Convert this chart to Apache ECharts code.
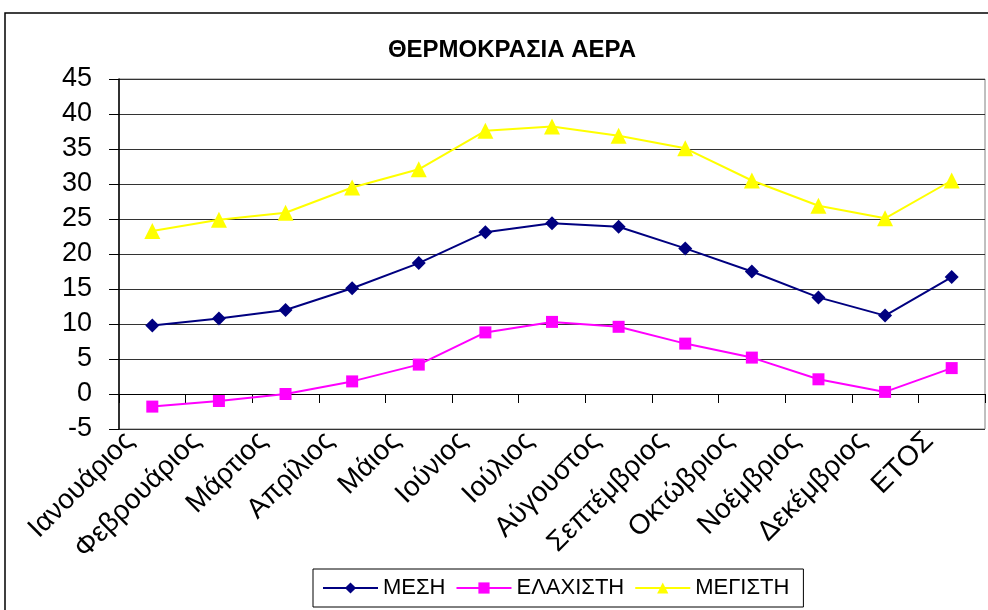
<!DOCTYPE html>
<html>
<head>
<meta charset="utf-8">
<script src="https://cdn.jsdelivr.net/npm/echarts@6/dist/echarts.min.js"></script>
<style>
  html, body { margin: 0; padding: 0; background: #fff; }
  #chart { width: 988px; height: 610px; }
</style>
</head>
<body>
<div id="chart"></div>
<script>
// data
const months = ['Ιανουάριος', 'Φεβρουάριος', 'Μάρτιος', 'Απρίλιος', 'Μάιος', 'Ιούνιος',
  'Ιούλιος', 'Αύγουστος', 'Σεπτέμβριος', 'Οκτώβριος', 'Νοέμβριος', 'Δεκέμβριος', 'ΕΤΟΣ']
const mesh = [9.8, 10.8, 12.0, 15.1, 18.7, 23.1, 24.4, 23.9, 20.8, 17.5, 13.8, 11.2, 16.7]
const elaxisti = [-1.8, -1.0, 0.0, 1.8, 4.2, 8.8, 10.3, 9.6, 7.2, 5.2, 2.1, 0.3, 3.7]
const megisti = [23.3, 24.9, 25.9, 29.5, 32.1, 37.6, 38.2, 36.9, 35.1, 30.5, 26.9, 25.1, 30.5]

const font = 'Arial, "Liberation Sans", sans-serif'

const chart = echarts.init(document.getElementById('chart'))

// one line series, Excel-like style
function lineSeries(name, data, color, symbol, size) {
  return {
    name: name,
    type: 'line',
    data: data,
    symbol: symbol,
    symbolSize: size,
    lineStyle: { color: color, width: 2 },
    itemStyle: { color: color },
    emphasis: { disabled: true },
    animation: false
  }
}

chart.setOption({
  backgroundColor: '#fff',
  textStyle: { fontFamily: font },
  graphic: [{
    type: 'rect',
    shape: { x: 5, y: 13, width: 1000, height: 700 },
    style: { fill: 'none', stroke: '#000', lineWidth: 1.5 },
    z: -1
  }],
  title: {
    text: 'ΘΕΡΜΟΚΡΑΣΙΑ ΑΕΡΑ',
    left: 507,
    textAlign: 'center',
    top: 33,
    textStyle: { fontSize: 24, fontWeight: 'bold', color: '#000', fontFamily: font }
  },
  grid: {
    left: 119, right: 3, top: 79, bottom: 181,
    show: true, borderColor: '#808080', borderWidth: 1
  },
  xAxis: {
    type: 'category',
    data: months,
    boundaryGap: true,
    axisLine: { onZero: true, lineStyle: { color: '#000', width: 1 } },
    axisTick: { show: true, inside: false, length: 9, alignWithLabel: false, lineStyle: { color: '#000' } },
    axisLabel: {
      rotate: 45, margin: 5, interval: 0,
      verticalAlign: 'bottom',
      padding: [0, 18, 0, 0],
      fontSize: 28, color: '#000', fontFamily: font
    },
    splitLine: { show: false }
  },
  yAxis: {
    type: 'value',
    min: -5, max: 45, interval: 5,
    axisLine: { show: true, lineStyle: { color: '#000', width: 1.5 } },
    axisTick: { show: true, length: 10, lineStyle: { color: '#000' } },
    axisLabel: { fontSize: 27, color: '#000', margin: 27, fontFamily: font },
    splitLine: { show: true, lineStyle: { color: '#333', width: 1 } }
  },
  legend: {
    left: 313, top: 569,
    padding: [8, 14, 8, 9],
    itemGap: 10,
    itemWidth: 55, itemHeight: 14,
    borderColor: '#000', borderWidth: 1,
    textStyle: { fontSize: 22, color: '#000', fontFamily: font },
    data: ['ΜΕΣΗ', 'ΕΛΑΧΙΣΤΗ', 'ΜΕΓΙΣΤΗ']
  },
  series: [
    lineSeries('ΜΕΣΗ', mesh, '#000080', 'diamond', 14),
    lineSeries('ΕΛΑΧΙΣΤΗ', elaxisti, '#ff00ff', 'rect', 12),
    lineSeries('ΜΕΓΙΣΤΗ', megisti, '#ffff00', 'triangle', 16)
  ]
})
</script>
</body>
</html>
